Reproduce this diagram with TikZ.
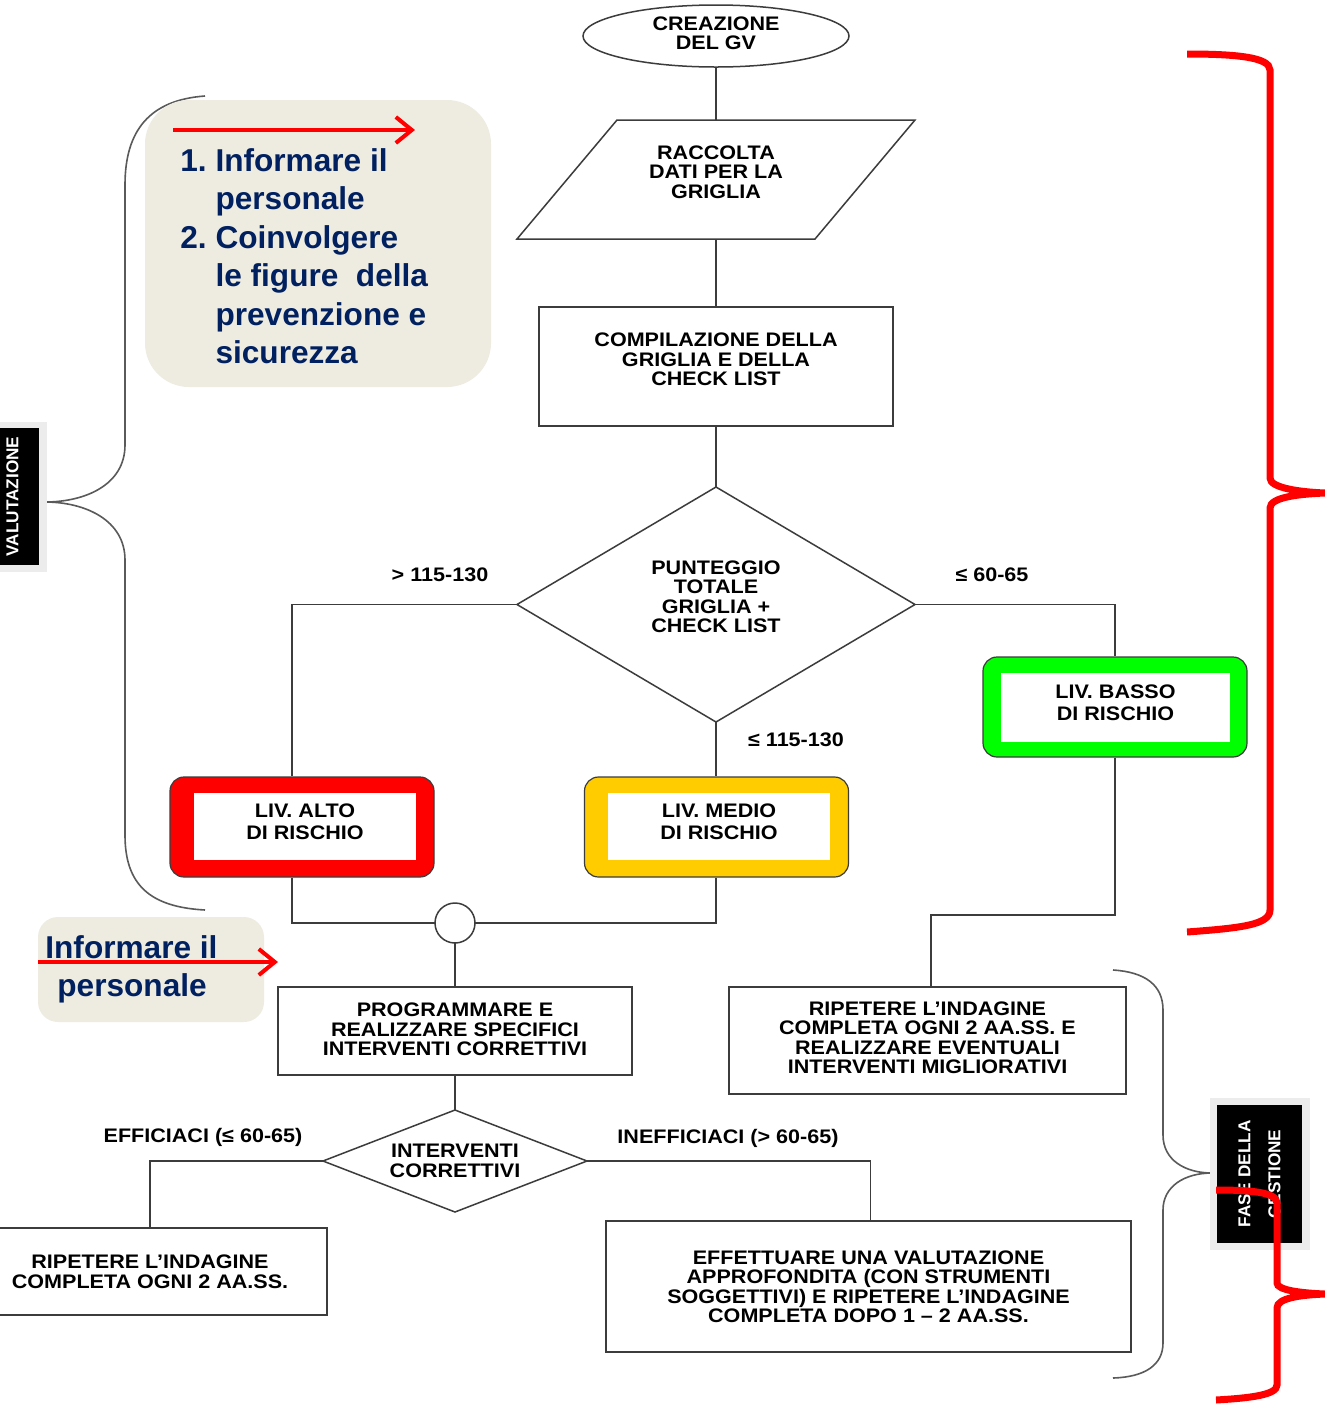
\documentclass[tikz,border=0pt]{standalone}
\usepackage{fontspec}
\setmainfont{Liberation Sans}
\newfontfamily\fcfont[FakeStretch=1.1]{Liberation Sans}
\usetikzlibrary{shapes.geometric,arrows.meta}
\definecolor{linec}{RGB}{60,60,60}
\definecolor{navy}{RGB}{0,32,96}
\definecolor{beige}{RGB}{238,236,225}
\definecolor{rosso}{RGB}{255,0,0}
\definecolor{giallo}{RGB}{255,204,0}
\definecolor{verde}{RGB}{0,255,0}
\definecolor{bracegrey}{RGB}{90,90,90}
\definecolor{margrey}{RGB}{236,236,236}
\newcommand\bxfont{\fcfont\bfseries\fontsize{9.8}{9.75}\selectfont}
\newcommand\livfont{\fcfont\bfseries\fontsize{9.8}{11}\selectfont}
\newcommand\calfont{\bfseries\fontsize{15.8}{19.25}\selectfont}
\newcommand\tagfont{\bfseries\fontsize{8.6}{15}\selectfont}
\begin{document}
\begin{tikzpicture}[x=0.5pt,y=-0.5pt,
  flow/.style={draw=linec, line width=0.75pt, inner sep=0pt, outer sep=0pt, align=center, font=\bxfont},
  conn/.style={draw=linec, line width=0.75pt},
  livbox/.style={draw=linec, line width=0.6pt, rounded corners=7pt, inner sep=0pt, minimum width=132pt, minimum height=50pt},
  livin/.style={fill=white, inner sep=0pt, align=center, font=\livfont, minimum width=111pt, minimum height=33.5pt, text depth=5pt},
  lbl/.style={inner sep=0pt, font=\bxfont},
  gbrace/.style={draw=bracegrey, line width=0.8pt},
  rbrace/.style={draw=rosso, line width=3.5pt},
  callout/.style={fill=beige, draw=none, inner sep=0pt},
  redarrow/.style={draw=rosso, line width=2pt, -{Straight Barb[length=8pt,width=13pt]}},
  tagbox/.style={fill=black, text=white, rotate=90, inner sep=0pt, align=center, font=\tagfont}
]
\clip (0,0) rectangle (1325,1404);
\fill[white] (0,0) rectangle (1325,1404);

% grey braces
\draw[gbrace] (205,96) .. controls (150,100) and (125,130) .. (125,185) -- (125,445)
  .. controls (125,485) and (85,502) .. (45,502)
  .. controls (85,502) and (125,520) .. (125,560) -- (125,835)
  .. controls (125,885) and (150,907) .. (205,910);
\draw[gbrace] (1113,970) .. controls (1145,972) and (1163,985) .. (1163,1010) -- (1163,1135)
  .. controls (1163,1160) and (1185,1173) .. (1212,1173)
  .. controls (1185,1173) and (1163,1186) .. (1163,1210) -- (1163,1343)
  .. controls (1163,1365) and (1145,1377) .. (1113,1378);

% side tags
\fill[margrey] (-20,422) rectangle (47,572);
\node[tagbox, minimum width=68.5pt, minimum height=26.5pt] (valutazione) at (12.5,496.5) {VALUTAZIONE};
\fill[margrey] (1210,1098) rectangle (1310,1250);
\node[tagbox, minimum width=69pt, minimum height=42.5pt] (fase) at (1259.5,1174) {FASE DELLA\\GESTIONE};

% flowchart nodes
\node[flow, ellipse, minimum width=133pt, minimum height=31pt, text depth=3pt] (creazione) at (716,36) {CREAZIONE\\DEL GV};
\node[inner sep=0pt, outer sep=0pt, align=center, font=\bxfont, minimum width=149pt, minimum height=59.5pt, text depth=7.5pt] (raccolta) at (716,179.5) {RACCOLTA\\DATI PER LA\\GRIGLIA};
\draw[conn] ([xshift=25pt]raccolta.north west) -- ([xshift=25pt]raccolta.north east)
  -- ([xshift=-25pt]raccolta.south east) -- ([xshift=-25pt]raccolta.south west) -- cycle;
\node[flow, rectangle, minimum width=177pt, minimum height=59.5pt, text depth=7pt] (compilazione) at (716,366.5) {COMPILAZIONE DELLA\\GRIGLIA E DELLA\\CHECK LIST};
\node[flow, diamond, minimum width=199pt, minimum height=117.5pt, text depth=8pt] (punteggio) at (716,604.5) {PUNTEGGIO\\TOTALE\\GRIGLIA +\\CHECK LIST};

\node[livbox, fill=rosso] (alto) at (302,827) {};
\node[livin] (altoin) at (305,826.5) {LIV. ALTO\\DI RISCHIO};
\node[livbox, fill=giallo] (medio) at (716.5,827) {};
\node[livin] (medioin) at (719,826.5) {LIV. MEDIO\\DI RISCHIO};
\node[livbox, fill=verde] (basso) at (1115,707) {};
\node[livin, minimum width=114.5pt, minimum height=34.5pt] (bassoin) at (1115.5,707.5) {LIV. BASSO\\DI RISCHIO};

\node[flow, circle, minimum size=20pt] (join) at (455,923) {};
\node[flow, rectangle, minimum width=177pt, minimum height=44pt, text depth=1.5pt] (programmare) at (455,1031) {PROGRAMMARE E\\REALIZZARE SPECIFICI\\INTERVENTI CORRETTIVI};
\node[flow, diamond, shape aspect=2.6, minimum width=132pt, minimum height=51pt] (interventi) at (455,1161) {INTERVENTI\\CORRETTIVI};
\node[flow, rectangle, minimum width=177pt, minimum height=43.5pt] (ripsx) at (150,1271.5) {RIPETERE L’INDAGINE\\COMPLETA OGNI 2 AA.SS.};
\node[flow, rectangle, minimum width=262.5pt, minimum height=65.5pt] (effettuare) at (868.5,1286.5) {EFFETTUARE UNA VALUTAZIONE\\APPROFONDITA (CON STRUMENTI\\SOGGETTIVI) E RIPETERE L’INDAGINE\\COMPLETA DOPO 1 – 2 AA.SS.};
\node[flow, rectangle, minimum width=198.5pt, minimum height=53.5pt, text depth=3pt] (ripdx) at (927.5,1040.5) {RIPETERE L’INDAGINE\\COMPLETA OGNI 2 AA.SS. E\\REALIZZARE EVENTUALI\\INTERVENTI MIGLIORATIVI};

% connectors
\draw[conn] (creazione.south) -- (raccolta.north);
\draw[conn] (raccolta.south) -- (compilazione.north);
\draw[conn] (compilazione.south) -- (punteggio.north);
\draw[conn] (punteggio.west) -| ([xshift=-5pt]alto.north);
\draw[conn] (punteggio.east) -| (basso.north);
\draw[conn] (punteggio.south) -- (punteggio.south |- medio.north);
\draw[conn] ([xshift=-5pt]alto.south) |- (join.west);
\draw[conn] (punteggio.south |- medio.south) |- (join.east);
\draw[conn] (join.south) -- (programmare.north);
\draw[conn] (programmare.south) -- (interventi.north);
\draw[conn] (interventi.west) -| (ripsx.north);
\draw[conn] (interventi.east) -| ([xshift=1pt]effettuare.north);
\coordinate (bend) at (931,915);
\draw[conn] (basso.south) |- (bend) -- (bend |- ripdx.north);

% branch labels
\node[lbl] (l1) at (440,575) {> 115-130};
\node[lbl] (l2) at (992,575) {≤ 60-65};
\node[lbl] (l3) at (796,740) {≤ 115-130};
\node[lbl] (l4) at (203,1137) {EFFICIACI (≤ 60-65)};
\node[lbl] (l5) at (728,1138) {INEFFICIACI (> 60-65)};

% callouts
\node[callout, minimum width=173pt, minimum height=143.5pt, rounded corners=22pt] (call1) at (318,243.5) {};
\node[anchor=north west, inner sep=0pt, text=navy, font=\calfont] (call1txt) at (180,144)
  {\begin{tabular}{@{}l@{\ }l@{}}1.&Informare il\\&personale\\2.&Coinvolgere\\&le figure\ \ della\\&prevenzione e\\&sicurezza\end{tabular}};
\coordinate (a1s) at (173,130);
\coordinate (a1e) at (415,130);
\draw[redarrow] (a1s) -- (a1e);

\node[callout, minimum width=113pt, minimum height=52.5pt, rounded corners=10pt] (call2) at (151,969.5) {};
\node[anchor=north west, inner sep=0pt, text=navy, font=\calfont] (call2txt) at (45,931)
  {\begin{tabular}{@{}l@{}}Informare il\\\hspace*{6pt}personale\end{tabular}};
\coordinate (a2s) at (38,962);
\coordinate (a2e) at (278,962);
\draw[redarrow] (a2s) -- (a2e);

% red braces
\draw[rbrace] (1187,54) .. controls (1235,54) and (1270,57) .. (1270,70) -- (1270,478)
  .. controls (1270,488) and (1300,492) .. (1325,493)
  .. controls (1300,494) and (1270,497) .. (1270,508) -- (1270,910)
  .. controls (1270,925) and (1240,928) .. (1187,932);
\draw[rbrace] (1216,1190) .. controls (1250,1190) and (1277,1192) .. (1277,1203) -- (1277,1283)
  .. controls (1277,1290) and (1300,1293) .. (1325,1294)
  .. controls (1300,1295) and (1277,1298) .. (1277,1308) -- (1277,1385)
  .. controls (1277,1395) and (1250,1398) .. (1216,1400);
\end{tikzpicture}
\end{document}
